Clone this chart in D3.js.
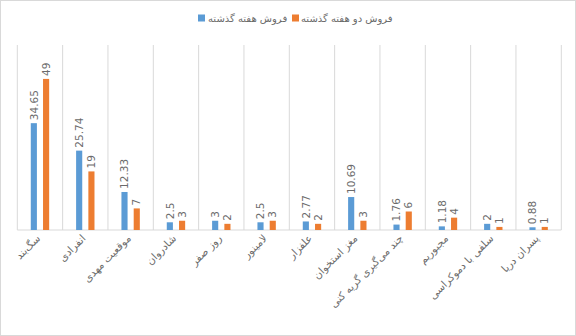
<!DOCTYPE html>
<html><head><meta charset="utf-8">
<script src="https://cdn.jsdelivr.net/npm/d3@7"></script>
<style>html,body{margin:0;padding:0;background:#fff;}</style>
</head><body>
<script>
const categories = ["سگ‌بند","انفرادی","موقعیت مهدی","شادروان","روز صفر","لامینور","علفزار","مغز استخوان","چند می‌گیری گریه کنی","مجبوریم","سلفی با دموکراسی","پسران دریا"];
const seriesNames = ["فروش هفته گذشته","فروش دو هفته گذشته"];
const lastWeek = [34.65,25.74,12.33,2.5,3,2.5,2.77,10.69,1.76,1.18,2,0.88];
const twoWeeks = [49,19,7,3,2,3,2,3,6,4,1,1];
const colors = ["#5B9BD5","#ED7D31"];

const W=576,H=336;
const svg=d3.select("body").append("svg").attr("width",W).attr("height",H);
svg.append("rect").attr("x",0.5).attr("y",0.5).attr("width",W-1).attr("height",H-1).attr("fill","#fff").attr("stroke","#d9d9d9");

const x0=d3.scaleBand().domain(categories).range([17.3,561.3]).padding(0);
const x1=d3.scaleBand().domain(seriesNames).range([0,x0.bandwidth()]).paddingInner(0.5).paddingOuter(1.1);
const y=d3.scaleLinear().domain([0,60]).range([230,45]);

const bounds=categories.map(c=>x0(c)).concat([x0.range()[1]]);
svg.append("g").selectAll("line").data(bounds).join("line")
  .attr("x1",d=>d).attr("x2",d=>d).attr("y1",y(60)).attr("y2",y(0))
  .attr("stroke","#d9d9d9").attr("stroke-width",1);
svg.append("line").attr("x1",x0.range()[0]).attr("x2",x0.range()[1]).attr("y1",y(0)).attr("y2",y(0)).attr("stroke","#d9d9d9");

const data=categories.map((c,i)=>({c,vals:[lastWeek[i],twoWeeks[i]]}));
const g=svg.append("g").selectAll("g").data(data).join("g").attr("transform",d=>`translate(${x0(d.c)},0)`);
g.selectAll("rect").data(d=>d.vals.map((v,j)=>({v,s:seriesNames[j],j}))).join("rect")
  .attr("x",d=>x1(d.s)).attr("width",x1.bandwidth()).attr("y",d=>y(d.v)).attr("height",d=>y(0)-y(d.v))
  .attr("fill",d=>colors[d.j]);
g.selectAll("text").data(d=>d.vals.map((v,j)=>({v,s:seriesNames[j],j}))).join("text")
  .attr("transform",d=>`translate(${x1(d.s)+x1.bandwidth()/2},${y(d.v)-3}) rotate(-90)`)
  .attr("dy","0.35em").attr("text-anchor","start")
  .attr("font-family","DejaVu Sans, sans-serif").attr("font-size",10.5).attr("fill","#6b6b6b")
  .text(d=>d.v);

svg.append("g").selectAll("text").data(categories).join("text")
  .attr("transform",d=>`translate(${x0(d)+x0.bandwidth()/2+1},${y(0)+9}) rotate(-45)`)
  .attr("text-anchor","end").attr("font-family","DejaVu Sans, sans-serif").attr("font-size",10.5)
  .attr("letter-spacing","2px").attr("fill","#6b6b6b")
  .text(d=>d);

const legX=[198,292];
const lg=svg.append("g").selectAll("g").data(seriesNames).join("g").attr("transform",(d,i)=>`translate(${legX[i]},18)`);
lg.append("rect").attr("x",0).attr("y",-3.5).attr("width",7).attr("height",7).attr("fill",(d,i)=>colors[i]);
lg.append("text").attr("x",(d,i)=>i===0?10:9).attr("dy","0.35em").attr("text-anchor","start")
  .attr("font-family","DejaVu Sans, sans-serif").attr("font-size",10).attr("letter-spacing","0.7px")
  .attr("fill","#6b6b6b").text(d=>d);
</script>
</body></html>
